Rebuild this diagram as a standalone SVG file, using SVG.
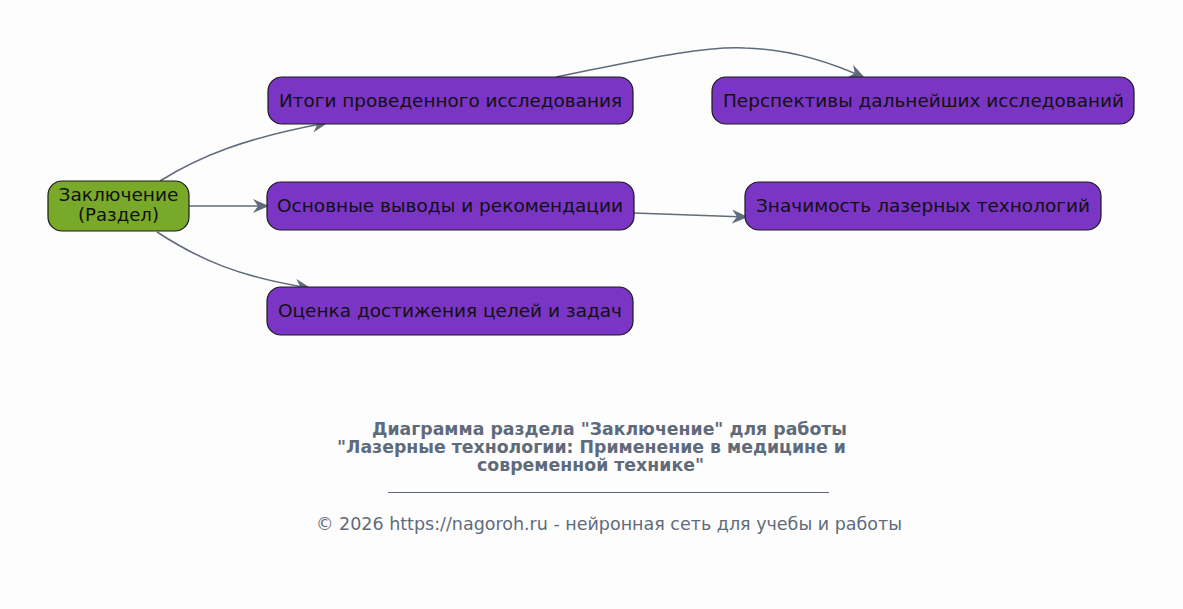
<svg xmlns="http://www.w3.org/2000/svg" width="1183" height="609" viewBox="0 0 1183 609">
<defs>
<style>
.node rect{fill:#7a35c4;stroke:#1a1a1a;stroke-width:1.2}
.node text{font-family:"DejaVu Sans",sans-serif;font-size:18px;fill:#111;text-anchor:middle}
#n0 rect{fill:#79a929}
.edge{fill:none;stroke:#5f6b7a;stroke-width:1.5}
.title{font-family:"DejaVu Sans",sans-serif;font-size:17px;font-weight:bold;fill:#5f6b7a;text-anchor:middle}
.foot{font-family:"DejaVu Sans",sans-serif;font-size:17.5px;fill:#5f6b7a;text-anchor:middle}
</style>
<marker id="arr" viewBox="0 0 16 14" refX="14" refY="7" markerWidth="16" markerHeight="14" markerUnits="userSpaceOnUse" orient="auto">
<path d="M0,0 L16,7 L0,14 L5,7 z" fill="#5f6b7a"/>
</marker>
</defs>
<rect width="1183" height="609" fill="#fdfdfd"/>
<g id="edges">
<path class="edge" marker-end="url(#arr)" d="M160,181 C200,156 245,138 326,123"/>
<path class="edge" marker-end="url(#arr)" d="M189,206 L267,206"/>
<path class="edge" marker-end="url(#arr)" d="M157,232 C200,260 240,277 309,288"/>
<path class="edge" marker-end="url(#arr)" d="M556,77 C640,60 700,46 745,48 C790,49 830,62 863,77"/>
<path class="edge" marker-end="url(#arr)" d="M634,213 L746,217"/>
</g>
<g id="n0" class="node"><rect x="48" y="181" width="141" height="50" rx="14"/><text x="118.5" y="201" textLength="120" lengthAdjust="spacingAndGlyphs">Заключение</text><text x="118.5" y="221" textLength="81" lengthAdjust="spacingAndGlyphs">(Раздел)</text></g>
<g id="n1" class="node"><rect x="268" y="77" width="365" height="47" rx="14"/><text x="450.5" y="107" textLength="343" lengthAdjust="spacingAndGlyphs">Итоги проведенного исследования</text></g>
<g id="n2" class="node"><rect x="267" y="182" width="367" height="48" rx="14"/><text x="450" y="212" textLength="346" lengthAdjust="spacingAndGlyphs">Основные выводы и рекомендации</text></g>
<g id="n3" class="node"><rect x="267" y="287" width="366" height="48" rx="14"/><text x="450" y="317" textLength="344" lengthAdjust="spacingAndGlyphs">Оценка достижения целей и задач</text></g>
<g id="n4" class="node"><rect x="712" y="77" width="422" height="47" rx="14"/><text x="923.5" y="107" textLength="401" lengthAdjust="spacingAndGlyphs">Перспективы дальнейших исследований</text></g>
<g id="n5" class="node"><rect x="745" y="182" width="356" height="48" rx="14"/><text x="923" y="212" textLength="334" lengthAdjust="spacingAndGlyphs">Значимость лазерных технологий</text></g>
<text class="title" x="609.5" y="435" textLength="475" lengthAdjust="spacingAndGlyphs">Диаграмма раздела "Заключение" для работы</text>
<text class="title" x="591.5" y="453" textLength="509" lengthAdjust="spacingAndGlyphs">"Лазерные технологии: Применение в медицине и</text>
<text class="title" x="590.5" y="471" textLength="227" lengthAdjust="spacingAndGlyphs">современной технике"</text>
<line x1="388" y1="492.5" x2="829" y2="492.5" stroke="#5f6b7a" stroke-width="1"/>
<text class="foot" x="609" y="530" textLength="586" lengthAdjust="spacingAndGlyphs">© 2026 https://nagoroh.ru - нейронная сеть для учебы и работы</text>
</svg>
